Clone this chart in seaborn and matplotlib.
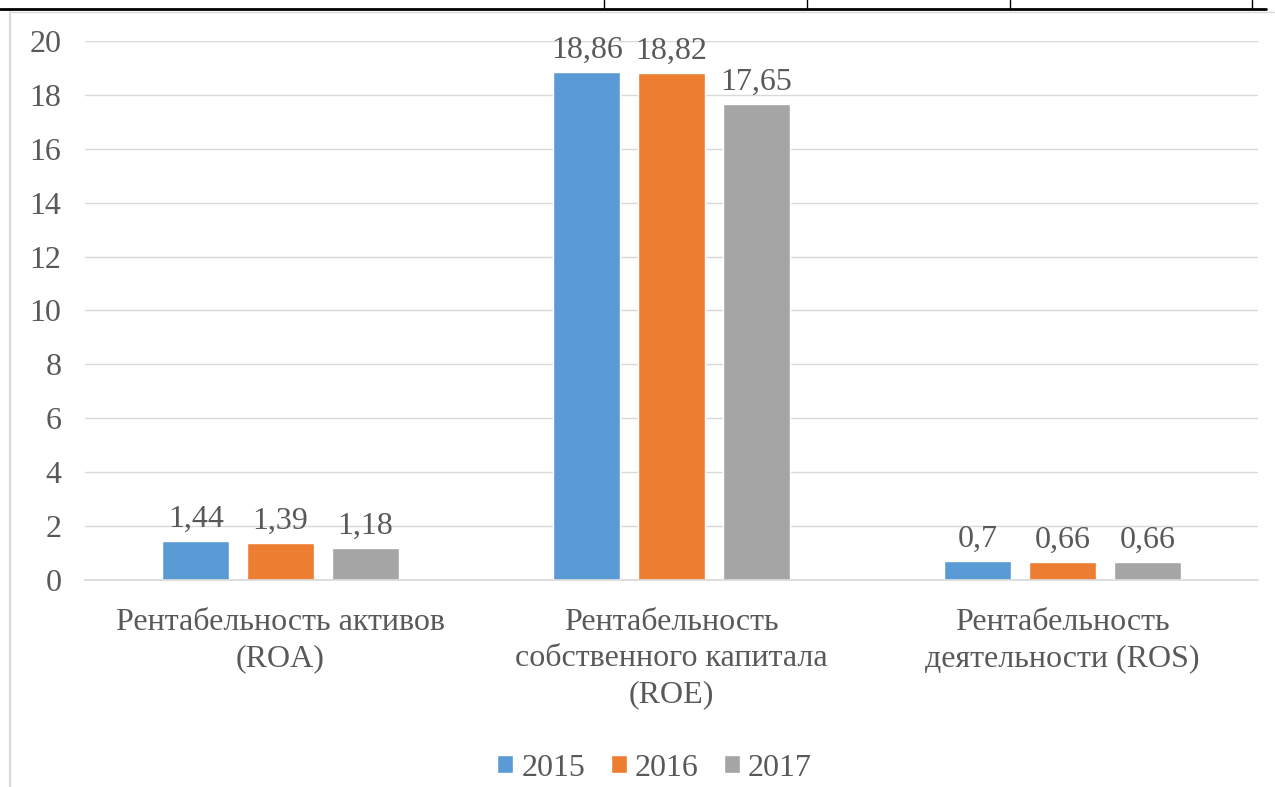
import matplotlib.pyplot as plt
import seaborn as sns
import pandas as pd
from matplotlib.lines import Line2D

categories = ["Рентабельность активов\n(ROA)",
              "Рентабельность\nсобственного капитала\n(ROE)",
              "Рентабельность\nдеятельности (ROS)"]
years = ["2015", "2016", "2017"]
values = {
    "2015": [1.44, 18.86, 0.70],
    "2016": [1.39, 18.82, 0.66],
    "2017": [1.18, 17.65, 0.66],
}
labels = {
    "2015": ["1,44", "18,86", "0,7"],
    "2016": ["1,39", "18,82", "0,66"],
    "2017": ["1,18", "17,65", "0,66"],
}
colors = ["#5B9BD5", "#ED7D31", "#A5A5A5"]

rows = []
for y in years:
    for c, v in zip(categories, values[y]):
        rows.append({"cat": c, "year": y, "val": v})
df = pd.DataFrame(rows)

sns.set_theme(style="white")
plt.rcParams["font.family"] = ["Liberation Serif", "DejaVu Serif"]
txt = "#595959"
fs = 23

fig = plt.figure(figsize=(12.75, 7.87), dpi=100)
ax = fig.add_axes([0.0667, 0.263, 0.92, 0.685])

sns.barplot(data=df, x="cat", y="val", hue="year", palette=colors,
            width=0.65, gap=0.21, saturation=1, ax=ax, legend=True)

for cont, y in zip(ax.containers, years):
    ax.bar_label(cont, labels=labels[y], padding=5, fontsize=fs, color=txt)

ax.set_ylim(0, 20)
ax.set_yticks(range(0, 21, 2))
ax.set_xlim(-0.5, 2.5)
ax.yaxis.grid(True, color="#D9D9D9", lw=1)
ax.set_axisbelow(True)
for s in ["top", "right", "left"]:
    ax.spines[s].set_visible(False)
ax.spines["bottom"].set_color("#D9D9D9")
ax.set_xlabel("")
ax.set_ylabel("")
ax.tick_params(axis="y", labelsize=fs, labelcolor=txt, length=0, pad=17)
ax.tick_params(axis="x", labelsize=fs, labelcolor=txt, length=0, pad=20)
for t in ax.get_xticklabels():
    t.set_linespacing(1.32)

ax.legend(loc="center", bbox_to_anchor=(0.4855, -0.349), ncol=3, frameon=False,
          fontsize=fs, labelcolor=txt, handlelength=0.5, handleheight=0.5,
          handletextpad=0.25, columnspacing=0.8)

# page/table remnants around the chart
fig.add_artist(Line2D([0, 0.993], [1 - 9 / 787] * 2, color="black", lw=2))
for x in [604, 807, 1010, 1252]:
    fig.add_artist(Line2D([x / 1275] * 2, [1, 1 - 9 / 787], color="black", lw=1))
fig.add_artist(Line2D([10 / 1275] * 2, [0, 1 - 12 / 787], color="#D9D9D9", lw=1.5))
fig.add_artist(Line2D([10 / 1275, 1], [1 - 12 / 787] * 2, color="#D9D9D9", lw=1))

fig.savefig("out.png", dpi=100)
